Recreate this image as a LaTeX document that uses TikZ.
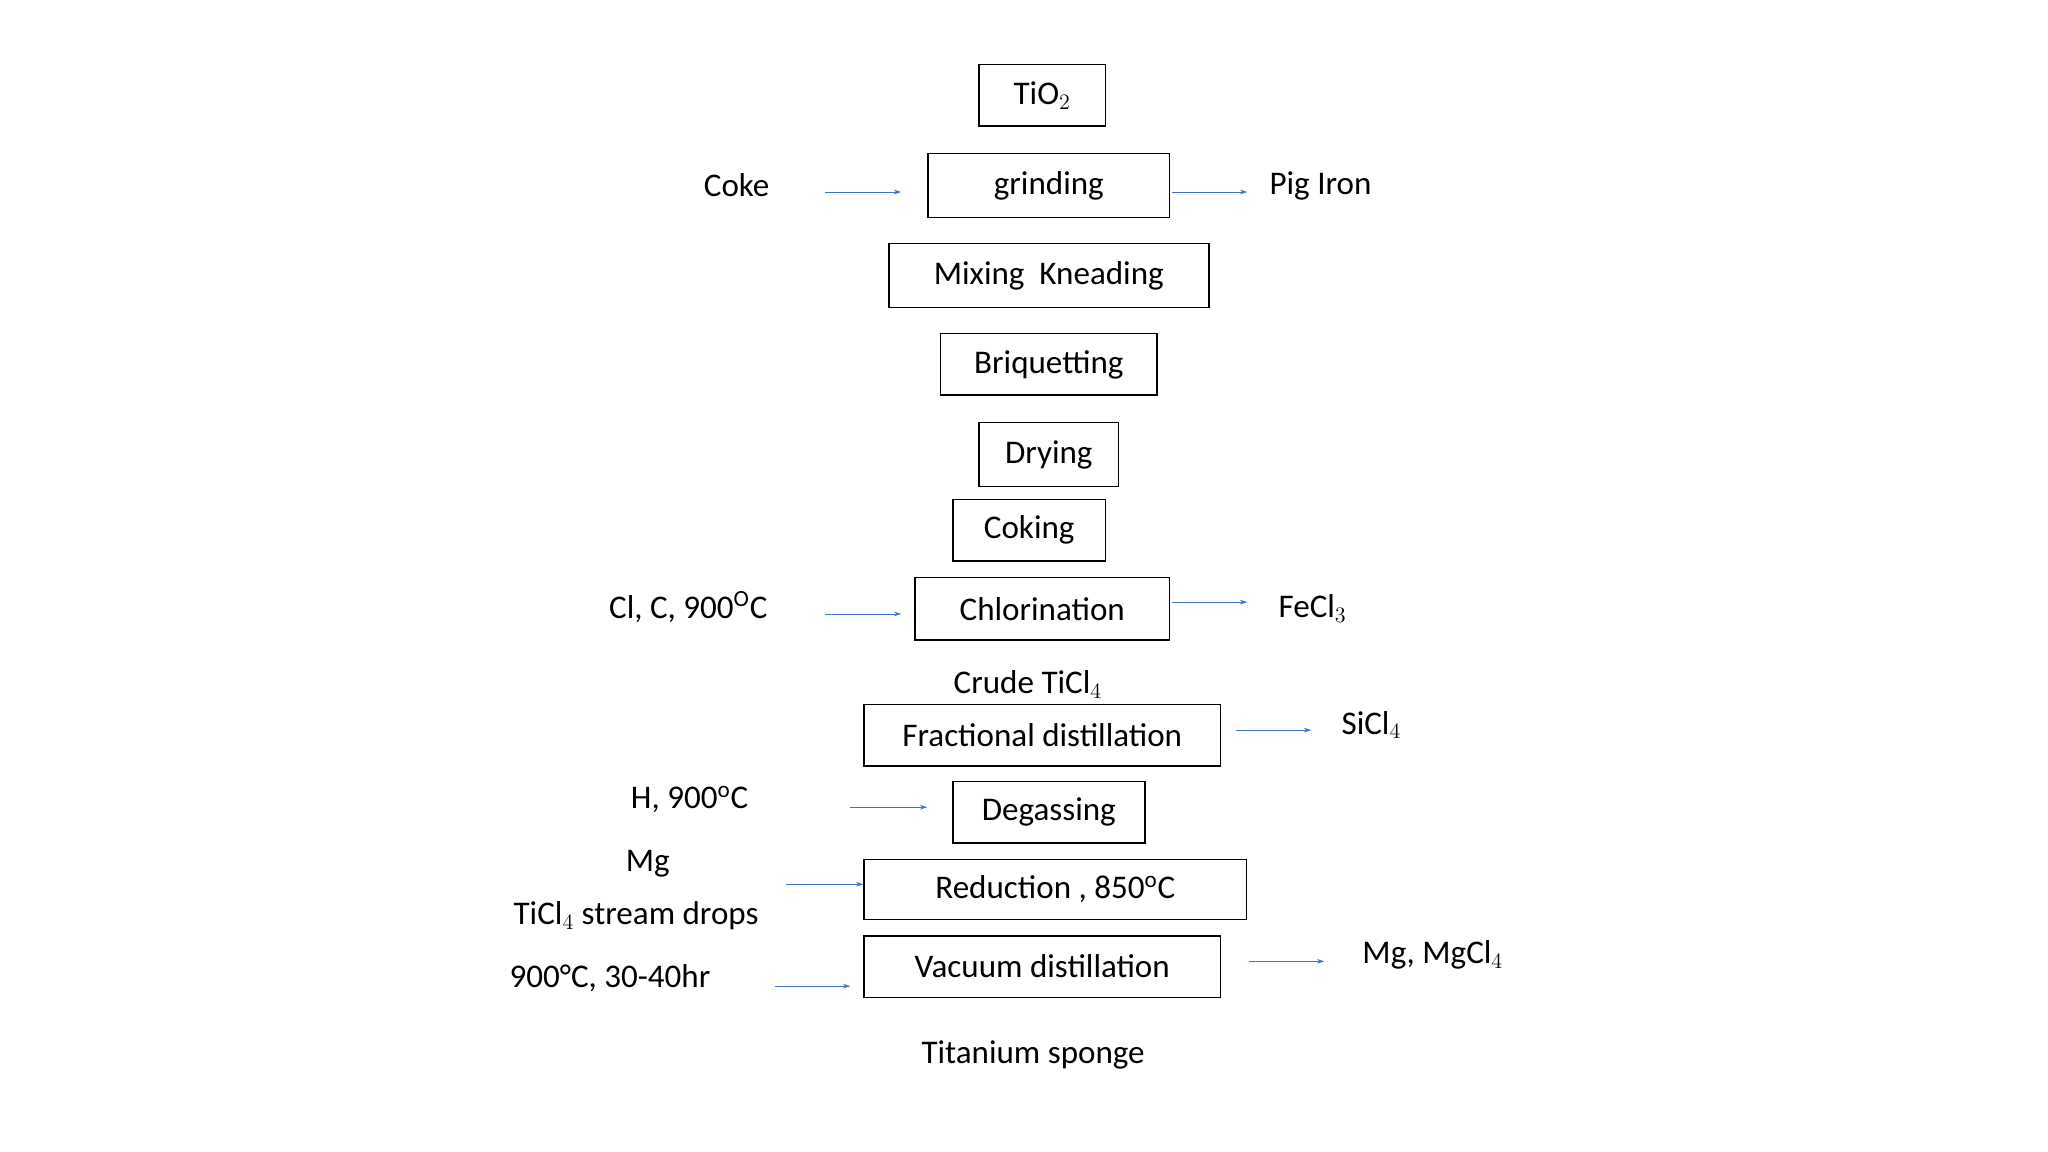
\documentclass[tikz,border=0pt]{standalone}
\usepackage{fontspec}
\setmainfont{Carlito}
\usetikzlibrary{arrows.meta}
\definecolor{arr}{HTML}{4472C4}
\begin{document}
\begin{tikzpicture}[x=0.025cm,y=-0.025cm,
  every node/.style={font=\fontsize{18}{20}\selectfont},
  pbox/.style={draw,thick,inner sep=0pt,minimum height=47*0.025cm},
  lbl/.style={inner sep=0pt},
  flow/.style={draw=arr,thin,-{Stealth[length=4pt,width=2.5pt]}}]
\useasboundingbox (0,0) rectangle (1568,882);
\node[pbox,minimum width=97*0.025cm] (tio) at (798,73) {TiO$_2$\hspace{1em}};
\node[pbox,minimum width=185*0.025cm,minimum height=49*0.025cm] (grind) at (803,142) {grinding};
\node[pbox,minimum width=245*0.025cm,minimum height=49*0.025cm] (mix) at (803,211) {Mixing\ \ Kneading};
\node[pbox,minimum width=166*0.025cm] (briq) at (803,279) {Briquetting};
\node[pbox,minimum width=107*0.025cm,minimum height=49*0.025cm] (dry) at (803,348) {Drying};
\node[pbox,minimum width=117*0.025cm] (cok) at (788,406) {Coking\hspace{0.5em}};
\node[pbox,minimum width=195*0.025cm,minimum height=48*0.025cm] (chl) at (798,466) {Chlorination\hspace{1.2em}};
\node[pbox,minimum width=273*0.025cm] (frac) at (798,563) {Fractional distillation};
\node[pbox,minimum width=147*0.025cm] (deg) at (803,622) {Degassing};
\node[pbox,minimum width=293*0.025cm,minimum height=46*0.025cm] (red) at (808,681) {Reduction , 850$^{\mathrm{o}}$C\hspace{3em}};
\node[pbox,minimum width=273*0.025cm] (vac) at (798,740) {Vacuum distillation\hspace{1.5em}};

\node[lbl] (coke) at (564,142) {Coke};
\node[lbl] (pig) at (1011,142) {Pig Iron};
\node[lbl] (clc) at (527,465) {Cl, C, 900$^{\mathrm{O}}$C};
\node[lbl] (fecl) at (1005,466) {FeCl$_3$};
\node[lbl] (crude) at (787,524) {Crude TiCl$_4$};
\node[lbl] (sicl) at (1050,555) {SiCl$_4$};
\node[lbl] (h) at (528,612) {H, 900$^{\mathrm{o}}$C};
\node[lbl] (mg) at (496,661) {Mg};
\node[lbl] (ticl) at (487,701) {TiCl$_4$ stream drops};
\node[lbl] (temp) at (467,749) {900°C, 30-40hr};
\node[lbl] (mgcl) at (1097,731) {Mg, MgCl$_4$};
\node[lbl] (ti) at (791,808) {Titanium sponge};

\coordinate (a1) at (632,147); \coordinate (b1) at (690,147);
\coordinate (a2) at (897,147); \coordinate (b2) at (955,147);
\coordinate (a3) at (632,470); \coordinate (b3) at (690,470);
\coordinate (a4) at (897,461); \coordinate (b4) at (955,461);
\coordinate (a5) at (946,559); \coordinate (b5) at (1004,559);
\coordinate (a6) at (651,618); \coordinate (b6) at (710,618);
\coordinate (a7) at (602,677); \coordinate (b7) at (661,677);
\coordinate (a8) at (593,755); \coordinate (b8) at (651,755);
\coordinate (a9) at (956,736); \coordinate (b9) at (1014,736);
\foreach \i in {1,...,9} \draw[flow] (a\i) -- (b\i);
\end{tikzpicture}
\end{document}
